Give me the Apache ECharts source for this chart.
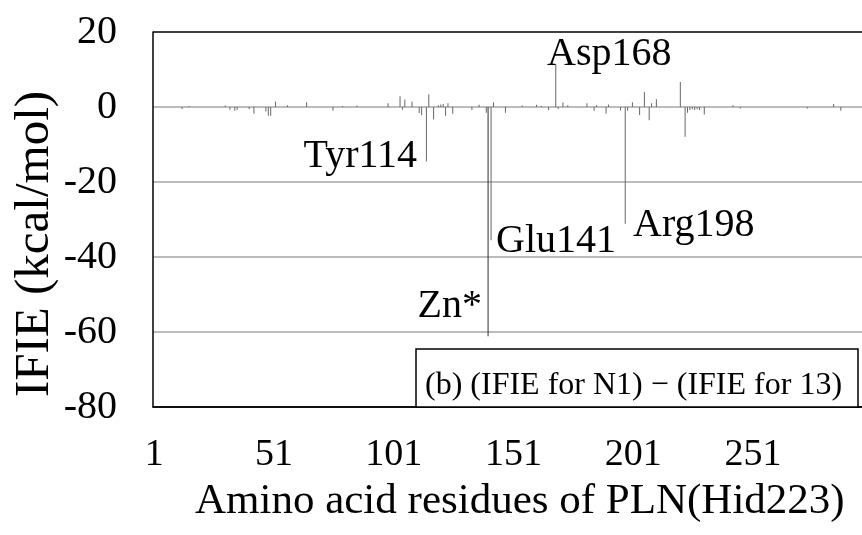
<!DOCTYPE html>
<html>
<head>
<meta charset="utf-8">
<script src="https://cdn.jsdelivr.net/npm/echarts@6/dist/echarts.min.js"></script>
<style>html,body{margin:0;padding:0;background:#fff}#c{width:862px;height:535px}</style>
</head>
<body>
<div id="c"></div>
<script>
// Number of residue positions on the category axis (right end is cropped in the picture)
const residueCount = 316;
// Residue positions (category numbers) that carry a visible IFIE difference
const residuePos = [12,15,30,32,34,35,40,42,47,48,49,51,56,64,75,79,85,98,
  103,104,105,108,111,112,114,115,117,119,120,121,122,123,125,133,136,139,
  141,142,147,154,160,162,165,168,169,171,173,181,184,185,
  189,190,195,197,198,200,203,205,207,208,210,220,222,223,224,225,226,227,228,230,
  242,245,273,284,287];
// IFIE difference values (kcal/mol) at those positions
const ifieDiff = [-0.5,0.3,0.4,-0.7,-1.0,-0.8,-0.5,-1.8,-1.2,-2.3,-2.3,1.5,0.5,1.3,-1.0,0.3,0.4,1.0,
  2.9,-0.7,2.0,1.5,-1.6,-2.2,-14.5,3.4,-3.3,0.5,0.7,0.8,-2.3,1.0,-1.8,-0.8,0.6,-1.5,
  -35.5,1.3,-1.5,0.4,0.6,0.3,-0.8,11.5,-0.5,1.2,0.5,1.0,-1.0,0.5,
  -1.8,0.7,-0.9,-31.1,-1.0,1.3,-2.1,4.0,-3.5,1.0,2.1,6.7,-7.9,-1.5,-0.8,-0.6,-0.8,-0.6,-0.8,-2.0,
  0.5,-0.4,-0.4,0.8,-1.0];
// Zn* interaction drawn next to Glu141
const znPos = 141;
const znValue = -61.1;
// Y axis ticks
const yMin = -80, yMax = 20, yStep = 20;
// Annotation labels
const annotations = ['Asp168','Tyr114','Glu141','Arg198','Zn*'];
const boxText = '(b) (IFIE for N1) \u2212 (IFIE for 13)';
const xTitle = 'Amino acid residues of PLN(Hid223)';
const yTitle = 'IFIE (kcal/mol)';

const categories = [];
for (let i = 1; i <= residueCount; i++) categories.push(String(i));
const mainData = categories.map(() => 0);
residuePos.forEach((p, i) => { mainData[p - 1] = ifieDiff[i]; });
const znData = categories.map(() => null);
znData[znPos - 1] = znValue;

const F = 'Liberation Serif, Times New Roman, serif';
const chart = echarts.init(document.getElementById('c'));
chart.setOption({
  animation: false,
  backgroundColor: '#fff',
  grid: { left: 153, top: 32, width: 757, height: 375, show: false, outerBoundsMode: 'none', containLabel: false },
  xAxis: {
    type: 'category', data: categories,
    axisLine: { show: true, onZero: false, lineStyle: { color: '#000', width: 1.5 } },
    axisTick: { show: false },
    axisLabel: { interval: function (i) { return i % 50 === 0 && i < 300; }, fontFamily: F, fontSize: 38, color: '#000', margin: 29 },
    splitLine: { show: false }
  },
  yAxis: {
    type: 'value', min: yMin, max: yMax, interval: yStep,
    axisLine: { show: true, lineStyle: { color: '#000', width: 1.5 } },
    axisTick: { show: false },
    axisLabel: { fontFamily: F, fontSize: 40, color: '#000', margin: 36 },
    splitLine: { show: true, lineStyle: { color: ['#000', '#a6a6a6', '#a6a6a6', '#a6a6a6', '#a6a6a6', '#000'], width: 1.5 } }
  },
  series: [
    { type: 'bar', name: 'Zn', data: znData, barWidth: 1, barGap: '200%', itemStyle: { color: '#303030' } },
    { type: 'bar', name: 'diff', data: mainData, barWidth: 1, itemStyle: { color: '#666666' } }
  ],
  graphic: [
    { type: 'text', left: 195, top: 480, style: { text: xTitle, font: '43px ' + F, fill: '#000' } },
    { type: 'text', x: 11, y: 244, rotation: Math.PI / 2, style: { text: yTitle, font: '49px ' + F, fill: '#000', align: 'center', verticalAlign: 'top' } },
    { type: 'text', x: 547, y: 74, style: { text: annotations[0], font: '40px ' + F, fill: '#000', verticalAlign: 'bottom' } },
    { type: 'text', x: 417, y: 176, style: { text: annotations[1], font: '40px ' + F, fill: '#000', align: 'right', verticalAlign: 'bottom' } },
    { type: 'text', x: 496, y: 261, style: { text: annotations[2], font: '40px ' + F, fill: '#000', verticalAlign: 'bottom' } },
    { type: 'text', x: 633, y: 245, style: { text: annotations[3], font: '40px ' + F, fill: '#000', verticalAlign: 'bottom' } },
    { type: 'text', x: 482, y: 326, style: { text: annotations[4], font: '40px ' + F, fill: '#000', align: 'right', verticalAlign: 'bottom' } },
    { type: 'rect', shape: { x: 416, y: 349, width: 442, height: 58 }, style: { fill: '#fff', stroke: '#000', lineWidth: 1.5 }, z: 10 },
    { type: 'text', x: 425, y: 402, z: 11, style: { text: boxText, font: '32px ' + F, fill: '#000', verticalAlign: 'bottom' } }
  ]
});
</script>
</body>
</html>
